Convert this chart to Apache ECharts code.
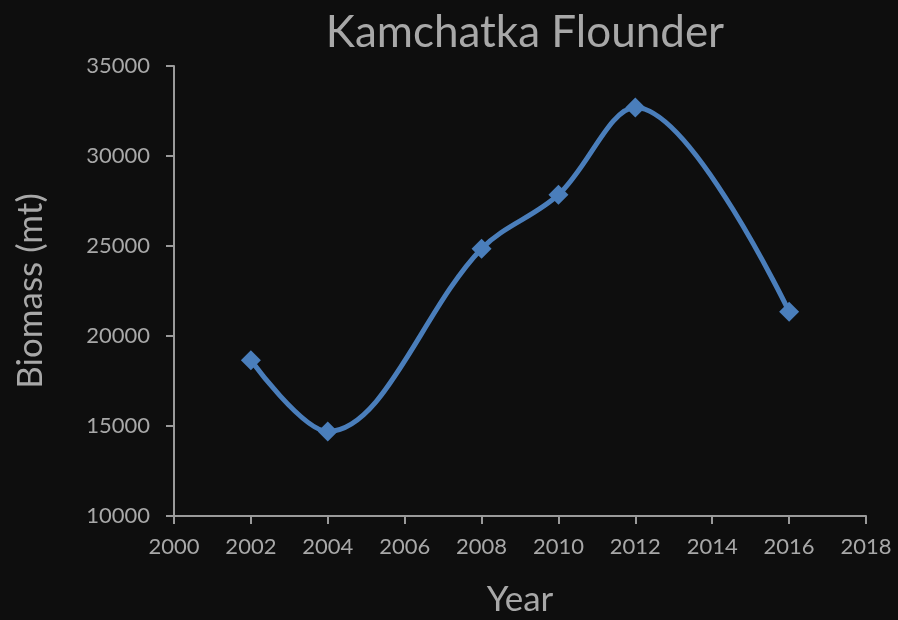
<!DOCTYPE html>
<html>
<head>
<meta charset="utf-8">
<script src="https://cdn.jsdelivr.net/npm/echarts@6/dist/echarts.min.js"></script>
<style>
    html, body { margin: 0; padding: 0; background: #0e0e0e; }
    #chart { width: 898px; height: 620px; }
</style>
</head>
<body>
<div id="chart"></div>
<script>
// 数据
const years = [2002, 2004, 2008, 2010, 2012, 2016];
const biomass = [18650, 14700, 24850, 27850, 32700, 21350];

const myChart = echarts.init(document.getElementById('chart'));
const axisColor = '#9a9a9a';
const textColor = '#a8a8a8';
const font = 'Lato';

myChart.setOption({
    backgroundColor: '#0e0e0e',
    animation: false,
    title: {
        text: 'Kamchatka Flounder',
        left: 520,
        textAlign: 'center',
        top: 6,
        textStyle: {
            color: textColor,
            fontSize: 44,
            fontWeight: 'normal',
            fontFamily: font,
        },
    },
    grid: {
        left: 174,
        right: 32,
        top: 66,
        bottom: 104,
        outerBoundsMode: 'none',
    },
    xAxis: {
        type: 'value',
        min: 2000,
        max: 2018,
        interval: 2,
        name: 'Year',
        nameLocation: 'middle',
        nameGap: 66,
        nameTextStyle: { color: textColor, fontSize: 35, fontFamily: font },
        axisLine: { lineStyle: { color: axisColor, width: 2 } },
        axisTick: { show: true, length: 8, lineStyle: { color: axisColor, width: 2 } },
        axisLabel: {
            color: textColor,
            fontSize: 22,
            fontFamily: font,
            margin: 20,
            formatter: v => String(v),
        },
        splitLine: { show: false },
    },
    yAxis: {
        type: 'value',
        min: 10000,
        max: 35000,
        interval: 5000,
        name: 'Biomass (mt)',
        nameLocation: 'middle',
        nameGap: 126,
        nameRotate: 90,
        nameTextStyle: { color: textColor, fontSize: 35, fontFamily: font },
        axisLine: { show: true, lineStyle: { color: axisColor, width: 2 } },
        axisTick: { show: true, length: 8, lineStyle: { color: axisColor, width: 2 } },
        axisLabel: {
            color: textColor,
            fontSize: 22,
            fontFamily: font,
            margin: 24,
            formatter: v => String(v),
        },
        splitLine: { show: false },
    },
    series: [
        {
            type: 'line',
            data: years.map((y, i) => [y, biomass[i]]),
            smooth: 0.35,
            symbol: 'diamond',
            symbolSize: 20,
            itemStyle: { color: '#4a7ebb' },
            lineStyle: { color: '#4a7ebb', width: 5 },
        },
    ],
});
</script>
</body>
</html>
